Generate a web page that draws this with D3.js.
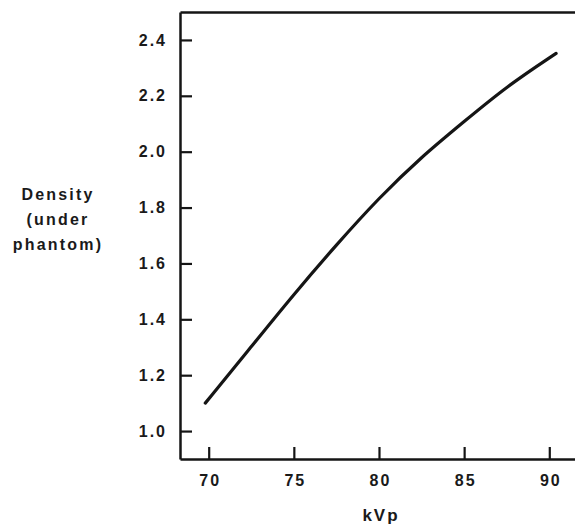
<!DOCTYPE html>
<html>
<head>
<meta charset="utf-8">
<script src="https://cdn.jsdelivr.net/npm/d3@7"></script>
<style>
html,body{margin:0;padding:0;background:#fff;}
svg{display:block;}
text{font-family:"Liberation Sans",Arial,sans-serif;font-weight:bold;fill:#1a1a1a;}
</style>
</head>
<body>
<svg id="chart" width="575" height="524"></svg>
<script>
// Data
const kvp     = [69.8, 72.5, 75.0, 77.5, 80.0, 82.5, 85.0, 87.5, 90.4];
const density = [1.10, 1.302, 1.490, 1.667, 1.835, 1.982, 2.108, 2.234, 2.352];
const xTicks  = [70, 75, 80, 85, 90];
const yTicks  = [1.0, 1.2, 1.4, 1.6, 1.8, 2.0, 2.2, 2.4];
const yTitle  = ["Density", "(under", "phantom)"];
const xTitle  = "kVp";

const svg = d3.select("#chart");
const x = d3.scaleLinear().domain([68.315, 91.51]).range([180, 575]);
const y = d3.scaleLinear().domain([0.9, 2.5]).range([459, 12]);

const ink = "#151515";

// top frame line
const gTop = svg.append("g").attr("transform", "translate(0,12)")
  .call(d3.axisTop(x).tickValues([]).tickSizeOuter(0));

// bottom axis
const gX = svg.append("g").attr("transform", "translate(0,459)")
  .call(d3.axisBottom(x).tickValues(xTicks).tickSize(-12).tickSizeOuter(0).tickPadding(16).tickFormat(d3.format("d")));

// left axis
const gY = svg.append("g").attr("transform", "translate(180,0)")
  .call(d3.axisLeft(y).tickValues(yTicks).tickSize(-12).tickSizeOuter(0).tickPadding(15).tickFormat(d3.format(".1f")));

[gTop, gX, gY].forEach(g => {
  g.select(".domain").attr("stroke", ink).attr("stroke-width", 2.5);
  g.selectAll(".tick line").attr("stroke", ink).attr("stroke-width", 2.2);
  g.selectAll(".tick text").attr("fill", "#1a1a1a")
    .style("font-family", '"Liberation Sans", Arial, sans-serif')
    .style("font-weight", "bold").style("font-size", "16px").style("letter-spacing", "2px");
});
gX.selectAll(".tick text").attr("dx", "1px");
gY.selectAll(".tick text").attr("dx", "2px");

// curve
const line = d3.line().x((d, i) => x(kvp[i])).y(d => y(d)).curve(d3.curveBasis);
svg.append("path").datum(density)
  .attr("d", line).attr("fill", "none").attr("stroke", ink)
  .attr("stroke-width", 3.2).attr("stroke-linecap", "round");

// y title
svg.append("text").attr("text-anchor", "middle")
  .style("font-size", "16px").style("letter-spacing", "2.2px")
  .selectAll("tspan").data(yTitle).join("tspan")
  .attr("x", 58).attr("y", (d, i) => 200 + i * 25).text(d => d);

// x title
svg.append("text").attr("text-anchor", "middle")
  .attr("x", 381).attr("y", 521)
  .style("font-size", "17px").style("letter-spacing", "2px")
  .text(xTitle);
</script>
</body>
</html>
